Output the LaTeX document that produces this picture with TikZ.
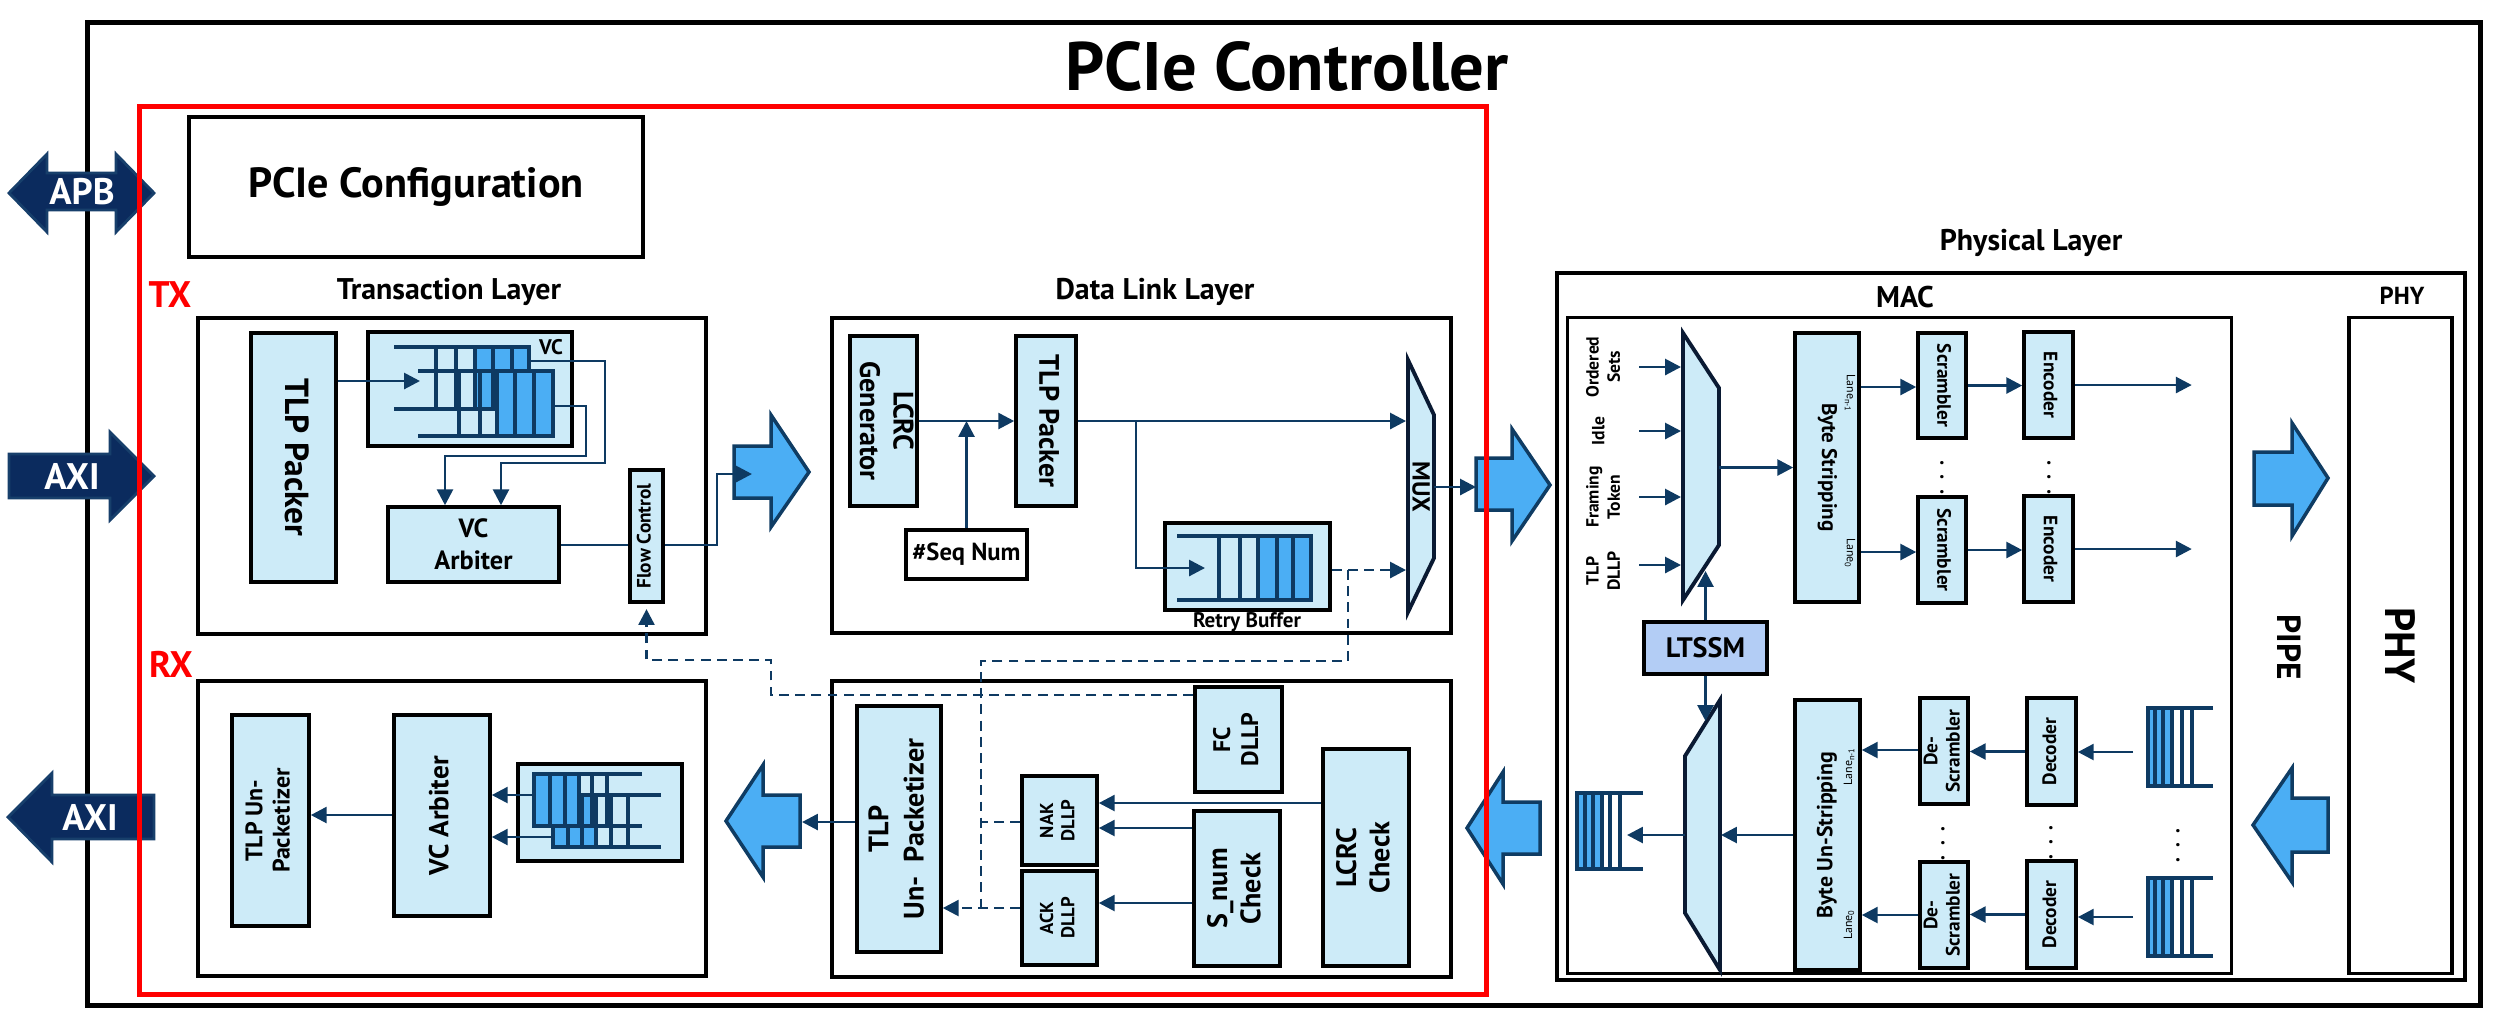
\documentclass[tikz,border=0pt]{standalone}
\usepackage{fontspec}
\setmainfont{PT Sans}
\usepackage{graphicx}
\usetikzlibrary{arrows.meta, positioning}

\definecolor{boxfill}{HTML}{CDEBF8}
\definecolor{cellblue}{HTML}{4BAEF4}
\definecolor{linenavy}{HTML}{0E3A62}
\definecolor{busnavy}{HTML}{0B2B5E}
\definecolor{busedge}{HTML}{173F6B}
\definecolor{arrline}{HTML}{0F3C63}
\definecolor{ltssmfill}{HTML}{B3CDF5}
\definecolor{muxline}{HTML}{0A1A33}

\newcommand{\fsz}[2]{\fontsize{#1}{#2}\selectfont\bfseries}
\newcommand{\rotup}[1]{\rotatebox{90}{\begin{tabular}{@{}c@{}}#1\end{tabular}}}
\newcommand{\rotdn}[1]{\rotatebox{-90}{\begin{tabular}{@{}c@{}}#1\end{tabular}}}
\newcommand{\lanesub}[1]{Lane\raisebox{-0.35ex}{\fontsize{2.4}{3}\selectfont #1}}

\tikzstyle{frame} = [rectangle, draw=black, line width=1.4pt]
\tikzstyle{redframe} = [rectangle, draw=red, line width=1.3pt]
\tikzstyle{layer} = [rectangle, draw=black, line width=1.3pt, fill=white]
\tikzstyle{thinbox} = [rectangle, draw=black, line width=0.9pt]
\tikzstyle{blk} = [rectangle, 
draw=black, 
line width=1pt, 
fill=boxfill, 
inner sep=0pt, 
align=center, 
font=\fsz{7}{8}]
\tikzstyle{plain} = [rectangle, 
draw=black, 
line width=1pt, 
fill=white, 
inner sep=0pt, 
align=center]
\tikzstyle{lbl} = [font=\fsz{8.5}{10}]
\tikzstyle{sidelbl} = [text=red, font=\fsz{10.5}{12}]
\tikzstyle{buslbl} = [text=white, font=\fsz{10.5}{12}]
\tikzstyle{inlbl} = [font=\fsz{5}{6}, inner sep=0pt]
\tikzstyle{lane} = [font=\fontsize{3.4}{4}\selectfont, inner sep=0pt]
\tikzstyle{dots} = [font=\fsz{6}{7}, inner sep=0pt]
\tikzstyle{flow} = [draw=linenavy, line width=0.8pt, ->]
\tikzstyle{link} = [draw=linenavy, line width=0.8pt]
\tikzstyle{dflow} = [flow, dash pattern=on 2.8pt off 1.8pt]
\tikzstyle{dlink} = [link, dash pattern=on 2.8pt off 1.8pt]
\tikzstyle{fat} = [fill=cellblue, draw=arrline, line width=1pt]
\tikzstyle{bus} = [fill=busnavy, draw=busedge, line width=0.8pt]
\tikzstyle{mux} = [fill=boxfill, draw=muxline, line width=1.1pt]
\tikzstyle{fifo} = [draw=linenavy, line width=1pt]

\begin{document}
\begin{tikzpicture}[x=0.01cm, y=-0.01cm, 
    >={Triangle[length=4.5pt,width=4.5pt]}
    ]
    \useasboundingbox (0,0) rectangle (2498,1020);

    \node (ctrl) [frame, minimum width=23.92cm, minimum height=9.82cm] at (1284,514) {};
    \node (title) [font=\fsz{19.5}{22}] at (1287,66) {PCIe Controller};

    % buses
    \draw[bus] (9,193) -- (47,154) -- (47,173) -- (116,173) -- (116,154) -- (154,193) -- (116,232) -- (116,210) -- (47,210) -- (47,232) -- cycle;
    \node (apb) [buslbl] at (82,192) {APB};
    \draw[bus] (9,454) -- (110,454) -- (110,432) -- (154,476) -- (110,520) -- (110,498) -- (9,498) -- cycle;
    \node (axiin) [buslbl] at (72,476) {AXI};
    \draw[bus] (8,817) -- (52,773) -- (52,795) -- (154,795) -- (154,839) -- (52,839) -- (52,862) -- cycle;
    \node (axiout) [buslbl] at (90,817) {AXI};

    \node (cfg) [plain, line width=1.3pt, minimum width=4.54cm, minimum height=1.40cm, font=\fsz{12}{14}] at (416,187) {PCIe Configuration};
    \node (tx) [sidelbl] at (170,295) {TX};
    \node (rx) [sidelbl] at (171,664) {RX};

    % transaction layer, TX
    \node (tlbl) [lbl] at (449,292) {Transaction Layer};
    \node (tltx) [layer, minimum width=5.08cm, minimum height=3.16cm] at (452,476) {};
    \node (tlpa) [blk, minimum width=0.85cm, minimum height=2.49cm, font=\fsz{9.5}{11}] at (293.5,457.5) {\rotdn{TLP Packer}};
    \node (vcbuf) [blk, minimum width=2.04cm, minimum height=1.14cm] at (470,389) {};
    \node (vclbl) [font=\fsz{6}{7}] at (551,347) {VC};
    \fill[cellblue] (475,347) rectangle (529,409);
    \draw[fifo] (394,347) -- (529,347) -- (529,409) -- (394,409);
    \foreach \x in {436,456,475,493,512} \draw[fifo] (\x,347) -- (\x,409);
    \fill[cellblue] (497,371) rectangle (553,436);
    \draw[fifo] (418,371) -- (553,371) -- (553,436) -- (418,436);
    \foreach \x in {459,480,497,515,534} \draw[fifo] (\x,371) -- (\x,436);
    \node (vcarb) [blk, minimum width=1.71cm, minimum height=0.75cm, font=\fsz{7.5}{9}] at (473.5,544.5) {VC\\Arbiter};
    \node (fc) [blk, minimum width=0.33cm, minimum height=1.32cm, font=\fsz{5.5}{6}] at (646.5,536) {\rotup{Flow Control}};

    \draw[flow] (tlpa.east |- 0,381) -- (420,381);
    \draw[flow] (529,361) -- (605,361) -- (605,463) -- (501,463) -- (501,0 |- vcarb.north);
    \draw[flow] (553,406) -- (586,406) -- (586,456) -- (445,456) -- (445,0 |- vcarb.north);
    \draw[link] (vcarb.east |- 0,545) -- (fc.west |- 0,545);

    % data link layer, TX
    \node (dlbl) [lbl] at (1155,292) {Data Link Layer};
    \node (dltx) [layer, minimum width=6.19cm, minimum height=3.15cm] at (1141.5,475.5) {};
    \node (lcrcg) [blk, minimum width=0.67cm, minimum height=1.70cm, font=\fsz{8}{9.5}] at (883.5,421) {\rotdn{LCRC\\Generator}};
    \node (tlpb) [blk, minimum width=0.60cm, minimum height=1.70cm, font=\fsz{8}{9.5}] at (1046,421) {\rotdn{TLP Packer}};
    \node (seq) [plain, minimum width=1.21cm, minimum height=0.49cm, font=\fsz{7}{8}] at (966.5,554.5) {\#Seq Num};
    \node (retry) [blk, minimum width=1.65cm, minimum height=0.87cm] at (1247.5,566.5) {};
    \node (retrylbl) [font=\fsz{6}{7}] at (1247,622) {Retry Buffer};
    \fill[cellblue] (1258,536) rectangle (1311,600);
    \draw[fifo] (1177,536) -- (1311,536) -- (1311,600) -- (1177,600);
    \foreach \x in {1219,1240,1258,1277,1293} \draw[fifo] (\x,536) -- (\x,600);
    \draw[mux] (1408,360) -- (1434,415) -- (1434,558) -- (1408,612) -- cycle;
    \node (mux) [font=\fsz{7}{8}] at (1421,487) {\rotatebox{-90}{MUX}};
    \coordinate (muxout) at (1434,487);

    \draw[flow] (lcrcg) -- (tlpb);
    \draw[flow] (seq.north) -- (seq.north |- lcrcg.east);
    \draw[flow] (tlpb.east) -- (1406,421);
    \draw[flow] (1136,421) -- (1136,568) -- (1205,568);
    \draw[dflow] (retry.east |- 0,570) -- (1406,570);

    % transaction layer, RX
    \node (tlrx) [layer, minimum width=5.08cm, minimum height=2.95cm] at (452,828.5) {};
    \node (tlpd) [blk, minimum width=0.77cm, minimum height=2.11cm, font=\fsz{6.8}{7.8}] at (270.5,820.5) {\rotup{TLP Un-\\Packetizer}};
    \node (vcarbb) [blk, minimum width=0.96cm, minimum height=2.01cm, font=\fsz{7.8}{9}] at (442,815.5) {\rotup{VC Arbiter}};
    \node (vcbufb) [blk, minimum width=1.64cm, minimum height=0.97cm] at (600,812.5) {};
    \fill[cellblue] (553,795) rectangle (596,847);
    \draw[fifo] (661,795) -- (553,795) -- (553,847) -- (661,847);
    \foreach \x in {568,582,596,611,628} \draw[fifo] (\x,795) -- (\x,847);
    \fill[cellblue] (534,774) rectangle (579,826);
    \draw[fifo] (642,774) -- (534,774) -- (534,826) -- (642,826);
    \foreach \x in {550,565,579,592,607} \draw[fifo] (\x,774) -- (\x,826);

    \draw[flow] (534,795) -- (vcarbb.east |- 0,795);
    \draw[flow] (553,837) -- (vcarbb.east |- 0,837);
    \draw[flow] (vcarbb.west |- 0,815) -- (tlpd.east |- 0,815);

    % data link layer, RX
    \node (dlrx) [layer, minimum width=6.19cm, minimum height=2.96cm] at (1141.5,829) {};
    \node (tlpc) [blk, minimum width=0.84cm, minimum height=2.46cm, font=\fsz{8}{10}] at (899,829) {\rotup{TLP\\Un-\ \ Packetizer}};
    \node (nak) [blk, minimum width=0.75cm, minimum height=0.89cm, font=\fsz{5.3}{6}] at (1059.5,820.5) {\rotup{NAK\\DLLP}};
    \node (ack) [blk, minimum width=0.75cm, minimum height=0.94cm, font=\fsz{5.3}{6}] at (1059.5,918) {\rotup{ACK\\DLLP}};
    \node (fcd) [blk, minimum width=0.87cm, minimum height=1.05cm, font=\fsz{6.8}{8}] at (1238.5,739.5) {\rotup{FC\\DLLP}};
    \node (snum) [blk, minimum width=0.86cm, minimum height=1.55cm, font=\fsz{8}{9.5}] at (1237,888.5) {\rotup{S\_num\\Check}};
    \node (lcrcc) [blk, minimum width=0.86cm, minimum height=2.17cm, font=\fsz{8}{9.5}] at (1366,857.5) {\rotup{LCRC\\Check}};

    \draw[flow] (lcrcc.west |- 0,803) -- (nak.east |- 0,803);
    \draw[flow] (snum.west |- 0,828) -- (nak.east |- 0,828);
    \draw[flow] (snum.west |- 0,903) -- (ack.east |- 0,903);
    \draw[flow] (tlpc.west |- 0,822) -- (802,822);

    % dashed feedback
    \draw[dlink] (1348,570) -- (1348,661) -- (981,661) -- (981,908);
    \draw[dlink] (nak.west |- 0,822) -- (981,822);
    \draw[dflow] (ack.west |- 0,908) -- (tlpc.east |- 0,908);
    \draw[dflow, shorten >=1.5pt] (fcd.west |- 0,695) -- (771,695) -- (771,660) -- (fc.south |- 0,660) -- (fc.south);

    % physical layer
    \node (phlbl) [lbl] at (2031,243) {Physical Layer};
    \node (phys) [frame, line width=1.2pt, minimum width=9.08cm, minimum height=7.07cm] at (2011,626.5) {};
    \node (maclbl) [lbl] at (1905,297) {MAC};
    \node (mac) [thinbox, minimum width=6.63cm, minimum height=6.55cm] at (1899.5,645.5) {};
    \node (phytop) [font=\fsz{7}{8}] at (2402,296) {PHY};
    \node (phy) [thinbox, minimum width=1.03cm, minimum height=6.55cm, font=\fsz{12}{14}] at (2400.5,645.5) {\rotatebox{-90}{PHY}};
    \node (pipe) [font=\fsz{9.5}{11}] at (2289,647) {\rotatebox{-90}{PIPE}};
    \draw[fat] (2254,452) -- (2292,452) -- (2292,423) -- (2328,478) -- (2292,536) -- (2292,505) -- (2254,505) -- cycle;
    \draw[fat] (2253,825) -- (2292,768) -- (2292,798) -- (2328,798) -- (2328,852) -- (2292,852) -- (2292,882) -- cycle;

    % MAC, TX side
    \node (os) [inlbl] at (1605,367) {\rotup{Ordered\\Sets}};
    \node (idle) [inlbl] at (1600,431) {\rotup{Idle}};
    \node (ft) [inlbl] at (1605,497) {\rotup{Framing\\Token}};
    \node (td) [inlbl] at (1605,571) {\rotup{TLP\\DLLP}};
    \draw[flow] (1639,0 |- os) -- (1681,0 |- os);
    \draw[flow] (1639,0 |- idle) -- (1681,0 |- idle);
    \draw[flow] (1639,0 |- ft) -- (1681,0 |- ft);
    \draw[flow] (1639,565) -- (1681,565);
    \draw[mux] (1683,333) -- (1719,388) -- (1719,545) -- (1683,600) -- cycle;
    \coordinate (muxtx) at (1719,467.5);

    \node (bstrip) [blk, minimum width=0.64cm, minimum height=2.69cm, font=\fsz{6}{7}] at (1827,467.5) {\rotdn{Byte Stripping}};
    \node (lanea) [lane] at (1850,393) {\rotatebox{-90}{\lanesub{n-1}}};
    \node (laneb) [lane] at (1850,553) {\rotatebox{-90}{\lanesub{0}}};
    \node (scr1) [blk, minimum width=0.48cm, minimum height=1.05cm, font=\fsz{5.5}{6.5}] at (1942,385.5) {\rotdn{Scrambler}};
    \node (scr2) [blk, minimum width=0.48cm, minimum height=1.06cm, font=\fsz{5.5}{6.5}] at (1942,550) {\rotdn{Scrambler}};
    \node (enc1) [blk, minimum width=0.49cm, minimum height=1.06cm, font=\fsz{5.5}{6.5}] at (2048.5,385) {\rotdn{Encoder}};
    \node (enc2) [blk, minimum width=0.49cm, minimum height=1.06cm, font=\fsz{5.5}{6.5}] at (2048.5,549) {\rotdn{Encoder}};
    \node (sdots) [dots] at (1942,467) {\vdots};
    \node (edots) [dots] at (2049,467) {\vdots};
    \node (ltssm) [blk, fill=ltssmfill, minimum width=1.23cm, minimum height=0.52cm, font=\fsz{8}{9}] at (1705.5,648) {LTSSM};

    \draw[flow] (muxtx) -- (bstrip.west);
    \draw[flow] (ltssm.north) -- (ltssm.north |- 0,571);
    \draw[flow] (bstrip.east |- 0,387) -- (scr1.west |- 0,387);
    \draw[flow] (bstrip.east |- 0,552) -- (scr2.west |- 0,552);
    \draw[flow] (scr1.east) -- (enc1.west |- scr1.east);
    \draw[flow] (scr2.east) -- (enc2.west |- scr2.east);
    \draw[flow] (enc1.east) -- ++(117,0);
    \draw[flow] (enc2.east) -- ++(117,0);

    % MAC, RX side
    \draw[mux] (1720,700) -- (1720,970) -- (1685,913) -- (1685,756) -- cycle;
    \node (bunstrip) [blk, minimum width=0.65cm, minimum height=2.70cm, font=\fsz{6.2}{7}] at (1827.5,835) {\rotup{Byte Un-Stripping}};
    \node (lanec) [lane] at (1849,767) {\rotatebox{90}{\lanesub{n-1}}};
    \node (laned) [lane] at (1849,925) {\rotatebox{90}{\lanesub{0}}};
    \node (dscr1) [blk, minimum width=0.48cm, minimum height=1.06cm, font=\fsz{5.5}{6.3}] at (1944,751) {\rotup{De-\\Scrambler}};
    \node (dscr2) [blk, minimum width=0.48cm, minimum height=1.06cm, font=\fsz{5.5}{6.3}] at (1944,915) {\rotup{De-\\Scrambler}};
    \node (dec1) [blk, minimum width=0.49cm, minimum height=1.07cm, font=\fsz{5.5}{6.5}] at (2051.5,751.5) {\rotup{Decoder}};
    \node (dec2) [blk, minimum width=0.49cm, minimum height=1.07cm, font=\fsz{5.5}{6.5}] at (2051.5,914.5) {\rotup{Decoder}};
    \node (ddots) [dots] at (1943,833) {\vdots};
    \node (cdots) [dots] at (2051,832) {\vdots};
    \node (fdots) [dots] at (2178,835) {\vdots};

    \fill[cellblue] (1577,793) rectangle (1602,869);
    \draw[fifo] (1643,793) -- (1577,793) -- (1577,869) -- (1643,869);
    \foreach \x in {1585,1593,1602,1610,1620} \draw[fifo] (\x,793) -- (\x,869);
    \fill[cellblue] (2148,708) rectangle (2172,786);
    \draw[fifo] (2213,708) -- (2148,708) -- (2148,786) -- (2213,786);
    \foreach \x in {2155,2163,2172,2182,2192} \draw[fifo] (\x,708) -- (\x,786);
    \fill[cellblue] (2148,878) rectangle (2172,956);
    \draw[fifo] (2213,878) -- (2148,878) -- (2148,956) -- (2213,956);
    \foreach \x in {2155,2163,2172,2182,2192} \draw[fifo] (\x,878) -- (\x,956);

    \draw[flow] (ltssm.south) -- (ltssm.south |- 0,721);
    \draw[flow] (bunstrip.west) -- (1721,835);
    \draw[flow] (1685,835) -- (1627,835);
    \draw[flow] (dscr1.west |- 0,750) -- (bunstrip.east |- 0,750);
    \draw[flow] (dscr2.west |- 0,915) -- (bunstrip.east |- 0,915);
    \draw[flow] (dec1.west) -- (dscr1.east |- dec1.west);
    \draw[flow] (dec2.west) -- (dscr2.east |- dec2.west);
    \draw[flow] (2133,752) -- (dec1.east |- 0,752);
    \draw[flow] (2133,917) -- (dec2.east |- 0,917);

    % layer to layer
    \draw[fat] (734,446) -- (771,446) -- (771,415) -- (809,472) -- (771,527) -- (771,498) -- (734,498) -- cycle;
    \draw[flow] (fc.east |- 0,545) -- (717,545) -- (717,474) -- (752,474);
    \draw[fat] (1476,458) -- (1512,458) -- (1512,429) -- (1550,485) -- (1512,541) -- (1512,510) -- (1476,510) -- cycle;
    \draw[flow] (muxout) -- (1476,487);
    \draw[fat] (726,821) -- (763,765) -- (763,795) -- (800,795) -- (800,847) -- (763,847) -- (763,877) -- cycle;
    \draw[fat] (1467,828) -- (1503,772) -- (1503,802) -- (1540,802) -- (1540,854) -- (1503,854) -- (1503,884) -- cycle;

    \node (core) [redframe, minimum width=13.46cm, minimum height=8.87cm] at (813,550.5) {};

\end{tikzpicture}
\end{document}
